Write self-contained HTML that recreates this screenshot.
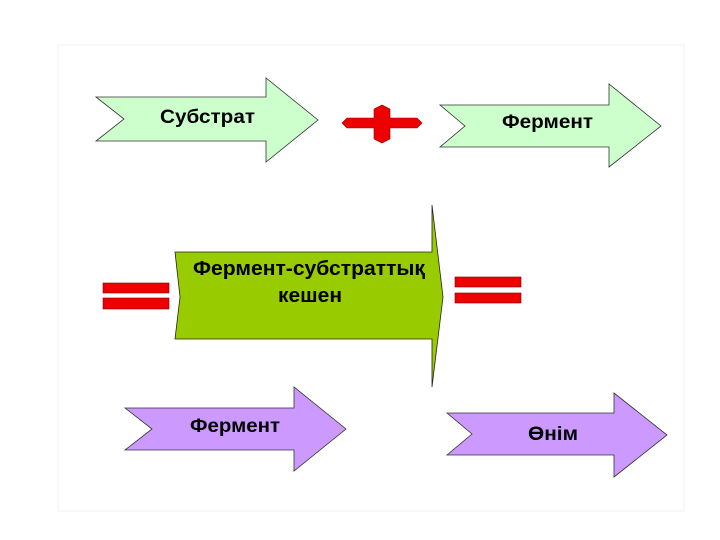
<!DOCTYPE html>
<html><head><meta charset="utf-8"><style>
html,body{margin:0;padding:0;background:#fff;width:720px;height:540px;overflow:hidden}
svg text{font-family:"Liberation Sans",Arial,sans-serif;font-weight:bold;fill:#000}
</style></head><body>
<svg width="720" height="540" viewBox="0 0 720 540" xmlns="http://www.w3.org/2000/svg">
<rect x="58" y="45" width="626" height="466" fill="#fff" stroke="#f2f2f2" stroke-width="1"/>
<polygon points="96,97 266,97 266,78 318,120 266,162 266,141 96,141 124,119" fill="#ccffcc" stroke="#333" stroke-width="0.8"/>
<text x="160" y="123" font-size="19" textLength="95" lengthAdjust="spacingAndGlyphs">Субстрат</text>
<polygon points="342,123 347,118 374,118 374,109 382,105 390,109 390,118 417,118 422,123 417,128 390,128 390,139 382,143 374,139 374,128 347,128" fill="#ee0000" stroke="#900" stroke-width="0.6"/>
<polygon points="440,105 609,105 609,84 661,126 609,167 609,147 440,147 465,126" fill="#ccffcc" stroke="#333" stroke-width="0.8"/>
<text x="502" y="128" font-size="19" textLength="91" lengthAdjust="spacingAndGlyphs">Фермент</text>
<rect x="103" y="283" width="66" height="10" fill="#ee0000" stroke="#800" stroke-width="0.6"/>
<rect x="103" y="298" width="66" height="11" fill="#ee0000" stroke="#800" stroke-width="0.6"/>
<polygon points="175,252 432,252 432,205 443,297 432,387 432,339 175,339 180,297" fill="#99cc00" stroke="#222" stroke-width="0.8"/>
<text x="193" y="275" font-size="20" textLength="232" lengthAdjust="spacingAndGlyphs">Фермент-субстраттық</text>
<text x="278" y="302" font-size="20" textLength="64" lengthAdjust="spacingAndGlyphs">кешен</text>
<rect x="455" y="277" width="66" height="10" fill="#ee0000" stroke="#800" stroke-width="0.6"/>
<rect x="455" y="293" width="66" height="10" fill="#ee0000" stroke="#800" stroke-width="0.6"/>
<polygon points="125,408 294,408 294,387 346,429 294,471 294,450 125,450 152,429" fill="#cc99ff" stroke="#333" stroke-width="0.8"/>
<text x="190" y="432" font-size="19" textLength="90" lengthAdjust="spacingAndGlyphs">Фермент</text>
<polygon points="447,413 614,413 614,393 667,435 614,477 614,455 447,455 472,434" fill="#cc99ff" stroke="#333" stroke-width="0.8"/>
<text x="528" y="440" font-size="19" textLength="50" lengthAdjust="spacingAndGlyphs">Өнім</text>
</svg>
</body></html>
